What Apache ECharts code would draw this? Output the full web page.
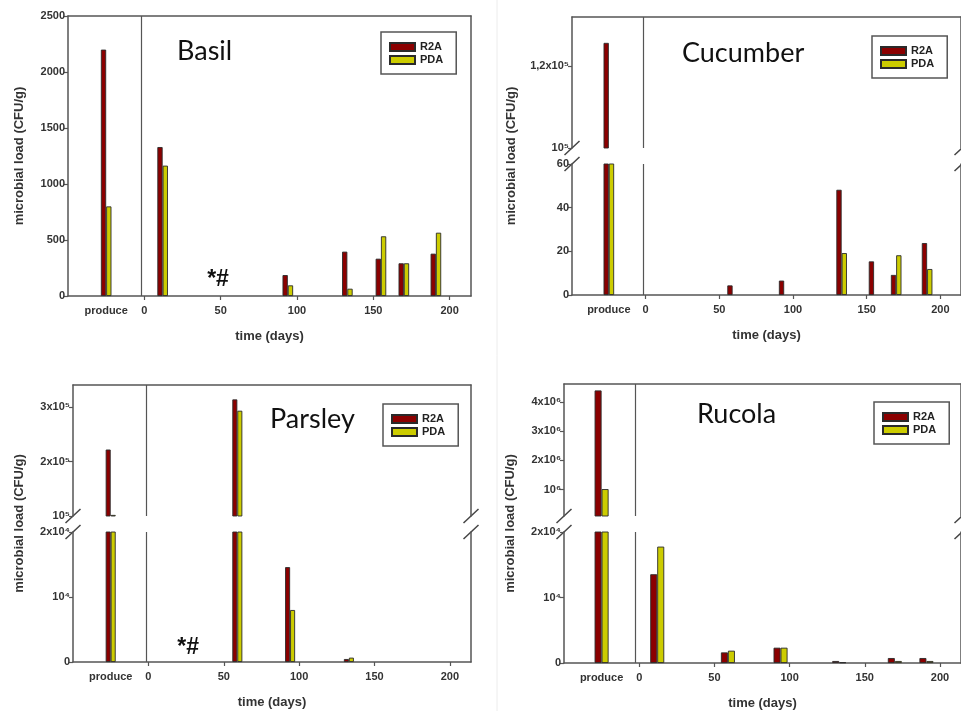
<!DOCTYPE html>
<html><head><meta charset="utf-8">
<script src="https://cdn.jsdelivr.net/npm/echarts@6/dist/echarts.min.js"></script>
<style>html,body{margin:0;padding:0;background:#fff}#c{width:961px;height:711px}</style>
</head><body><div id="c"></div>
<script>
// ---------- DATA ----------
const xTickValues = [-25, 0, 50, 100, 150, 200];
const xTickLabels = ['produce', '0', '50', '100', '150', '200'];
const xTickMarks = [0, 50, 100, 150, 200];
const PRODUCE_X = -25;

const basilDays = ['produce', 12, 94, 133, 155, 170, 191];
const basilR2A  = [2200, 1330, 187, 396, 333, 292, 378];
const basilPDA  = [800, 1164, 95, 65, 533, 292, 565];
const basilTicks = [0, 500, 1000, 1500, 2000, 2500];
const basilTickLabels = ['0', '500', '1000', '1500', '2000', '2500'];
const basilNote = [50, 143];

const cucumberDays = ['produce', 59, 94, 133, 155, 170, 191];
const cucumberR2A  = [125600, 4.4, 6.6, 48.2, 15.4, 9.2, 23.8];
const cucumberPDA  = [1000, null, null, 19.2, null, 18.2, 11.9];
const cucumberHighTicks = [100000, 120000];
const cucumberHighLabels = ['10⁵', '1,2x10⁵'];
const cucumberLowTicks = [0, 20, 40, 60];
const cucumberLowLabels = ['0', '20', '40', '60'];

const parsleyDays = ['produce', 59, 94, 133];
const parsleyR2A  = [222000, 314100, 14600, 460];
const parsleyPDA  = [102000, 293300, 8000, 670];
const parsleyHighTicks = [100000, 200000, 300000];
const parsleyHighLabels = ['10⁵', '2x10⁵', '3x10⁵'];
const parsleyLowTicks = [0, 10000, 20000];
const parsleyLowLabels = ['0', '10⁴', '2x10⁴'];
const parsleyNote = [28, 2260];

const rucolaDays = ['produce', 12, 59, 94, 133, 170, 191];
const rucolaR2A  = [4390000, 13550, 1620, 2335, 305, 760, 760];
const rucolaPDA  = [1020000, 17770, 1880, 2335, 100, 305, 305];
const rucolaHighTicks = [1000000, 2000000, 3000000, 4000000];
const rucolaHighLabels = ['10⁶', '2x10⁶', '3x10⁶', '4x10⁶'];
const rucolaLowTicks = [0, 10000, 20000];
const rucolaLowLabels = ['0', '10⁴', '2x10⁴'];

// ---------- STYLE / LAYOUT ----------
const X_MIN = -50, X_MAX = 214;
const AX = '#555';
const FONT = '"Liberation Sans", Arial, sans-serif';
const R2A_COLOR = '#8b0000';
const PDA_COLOR = '#cccc00';

const grids = [], xAxes = [], yAxes = [], series = [], legends = [], graphics = [];

function lineAxisStyle() { return { show: true, onZero: false, lineStyle: { color: AX, width: 1.5 } }; }

function addPanel(p) {
  const n = p.segs.length;
  p.segs.forEach((s, i) => {
    const g = grids.length;
    grids.push({ left: p.left, top: s.top, width: p.right - p.left, height: s.bottom - s.top });
    const isTop = i === 0, isBottom = i === n - 1;
    const xi = xAxes.length;
    xAxes.push({
      type: 'value', gridIndex: g, min: X_MIN, max: X_MAX, position: isBottom ? 'bottom' : 'top',
      axisLine: lineAxisStyle(),
      axisTick: isBottom ? { show: true, length: 4, inside: false, customValues: xTickMarks, lineStyle: { color: AX, width: 1.2 } } : { show: false },
      axisLabel: isBottom ? {
        show: true, customValues: xTickValues,
        formatter: v => { const k = xTickValues.indexOf(v); return k >= 0 ? xTickLabels[k] : ''; },
        margin: 9, fontFamily: FONT, fontWeight: 'bold', fontSize: 11, color: '#333'
      } : { show: false },
      splitLine: { show: false },
      name: isBottom ? 'time (days)' : '', nameLocation: 'middle', nameGap: 34,
      nameTextStyle: { fontFamily: FONT, fontWeight: 'bold', fontSize: 13, color: '#333' }
    });
    if (isTop && isBottom) {
      xAxes.push({ type: 'value', gridIndex: g, min: X_MIN, max: X_MAX, position: 'top',
        axisLine: lineAxisStyle(), axisTick: { show: false }, axisLabel: { show: false }, splitLine: { show: false } });
    }
    const yi = yAxes.length;
    yAxes.push({
      type: 'value', gridIndex: g, min: s.min, max: s.max, position: 'left',
      axisLine: lineAxisStyle(),
      axisTick: { show: true, length: 4, inside: false, customValues: s.ticks, lineStyle: { color: AX, width: 1.2 } },
      axisLabel: {
        show: true, customValues: s.ticks,
        formatter: v => { const k = s.ticks.indexOf(v); return k >= 0 ? s.labels[k] : ''; },
        margin: 3, fontFamily: FONT, fontWeight: 'bold', fontSize: 11, color: '#333'
      },
      splitLine: { show: false }
    });
    yAxes.push({ type: 'value', gridIndex: g, min: s.min, max: s.max, position: 'right',
      axisLine: lineAxisStyle(), axisTick: { show: false }, axisLabel: { show: false }, splitLine: { show: false } });

    const toData = vals => p.days.map((d, k) => [d === 'produce' ? PRODUCE_X : d, vals[k]]).filter(e => e[1] != null);
    const r2a = {
      type: 'bar', name: 'R2A', xAxisIndex: xi, yAxisIndex: yi, data: toData(p.r2a),
      barWidth: p.barWidth, barGap: '0%', clip: true, silent: true,
      itemStyle: { color: R2A_COLOR, borderColor: '#2a2a2a', borderWidth: 0.9 },
      markLine: { silent: true, symbol: ['none', 'none'], label: { show: false },
        lineStyle: { color: AX, width: 1.2, type: 'solid' }, data: [{ xAxis: 0 }] }
    };
    if (isBottom && p.note) {
      r2a.markPoint = { silent: true, symbol: 'circle', symbolSize: 1, itemStyle: { color: 'rgba(0,0,0,0)' },
        label: { show: true, position: 'inside', formatter: '*#', fontSize: 23, fontWeight: 'bold', color: '#111', fontFamily: FONT },
        data: [{ coord: p.note }] };
    }
    series.push(r2a);
    series.push({
      type: 'bar', name: 'PDA', xAxisIndex: xi, yAxisIndex: yi, data: toData(p.pda),
      barWidth: p.barWidth, barGap: '0%', clip: true, silent: true,
      itemStyle: { color: PDA_COLOR, borderColor: '#2a2a2a', borderWidth: 0.9 }
    });
  });

  legends.push({
    left: p.legend[0], top: p.legend[1], orient: 'vertical', data: ['R2A', 'PDA'], icon: 'rect',
    itemWidth: 25, itemHeight: 8, itemGap: 1, padding: [9, 13, 8, 8], selectedMode: false,
    borderColor: AX, borderWidth: 1.5,
    textStyle: { fontFamily: FONT, fontWeight: 'bold', fontSize: 11, color: '#222', lineHeight: 12 }
  });

  graphics.push({ type: 'text', x: p.title[0], y: p.title[1], silent: true,
    style: { text: p.name, font: '27px Lato', fill: '#111', verticalAlign: 'middle', align: 'left' } });
  graphics.push({ type: 'text', x: p.ytitle[0], y: p.ytitle[1], rotation: Math.PI / 2, silent: true,
    style: { text: 'microbial load (CFU/g)', font: 'bold 13px "Liberation Sans", Arial', fill: '#333', align: 'center', verticalAlign: 'middle' } });

  if (n === 2) {
    const ys = [p.segs[0].bottom, p.segs[1].top];
    [p.left, p.right].forEach(x => ys.forEach(y => {
      graphics.push({ type: 'line', silent: true, shape: { x1: x - 7.5, y1: y + 7, x2: x + 7.5, y2: y - 7 },
        style: { stroke: '#444', lineWidth: 1.5 } });
    }));
  }
}

addPanel({ name: 'Basil', left: 68, right: 471, barWidth: 5.3,
  days: basilDays, r2a: basilR2A, pda: basilPDA, note: basilNote,
  segs: [{ top: 16, bottom: 296, min: 0, max: 2500, ticks: basilTicks, labels: basilTickLabels }],
  legend: [381, 32], title: [177, 51], ytitle: [19, 156] });

addPanel({ name: 'Cucumber', left: 572, right: 962, barWidth: 5.3,
  days: cucumberDays, r2a: cucumberR2A, pda: cucumberPDA,
  segs: [{ top: 17, bottom: 148, min: 100000, max: 131900, ticks: cucumberHighTicks, labels: cucumberHighLabels },
         { top: 164, bottom: 295, min: 0, max: 60, ticks: cucumberLowTicks, labels: cucumberLowLabels }],
  legend: [872, 36], title: [682, 53], ytitle: [511.5, 156] });

addPanel({ name: 'Parsley', left: 73, right: 471, barWidth: 5,
  days: parsleyDays, r2a: parsleyR2A, pda: parsleyPDA, note: parsleyNote,
  segs: [{ top: 385, bottom: 516, min: 100000, max: 340500, ticks: parsleyHighTicks, labels: parsleyHighLabels },
         { top: 532, bottom: 662, min: 0, max: 20000, ticks: parsleyLowTicks, labels: parsleyLowLabels }],
  legend: [383, 404], title: [270, 419], ytitle: [19, 523.5] });

addPanel({ name: 'Rucola', left: 564, right: 962, barWidth: 7,
  days: rucolaDays, r2a: rucolaR2A, pda: rucolaPDA,
  segs: [{ top: 384, bottom: 516, min: 100000, max: 4610000, ticks: rucolaHighTicks, labels: rucolaHighLabels },
         { top: 532, bottom: 663, min: 0, max: 20000, ticks: rucolaLowTicks, labels: rucolaLowLabels }],
  legend: [874, 402], title: [697, 414], ytitle: [510, 523.5] });

graphics.push({ type: 'line', silent: true, z: -1, shape: { x1: 497, y1: 0, x2: 497, y2: 711 },
  style: { stroke: '#ececec', lineWidth: 1 } });

const chart = echarts.init(document.getElementById('c'));
chart.setOption({
  animation: false,
  backgroundColor: '#fff',
  grid: grids, xAxis: xAxes, yAxis: yAxes, series: series, legend: legends,
  graphic: { elements: graphics }
});
</script></body></html>
